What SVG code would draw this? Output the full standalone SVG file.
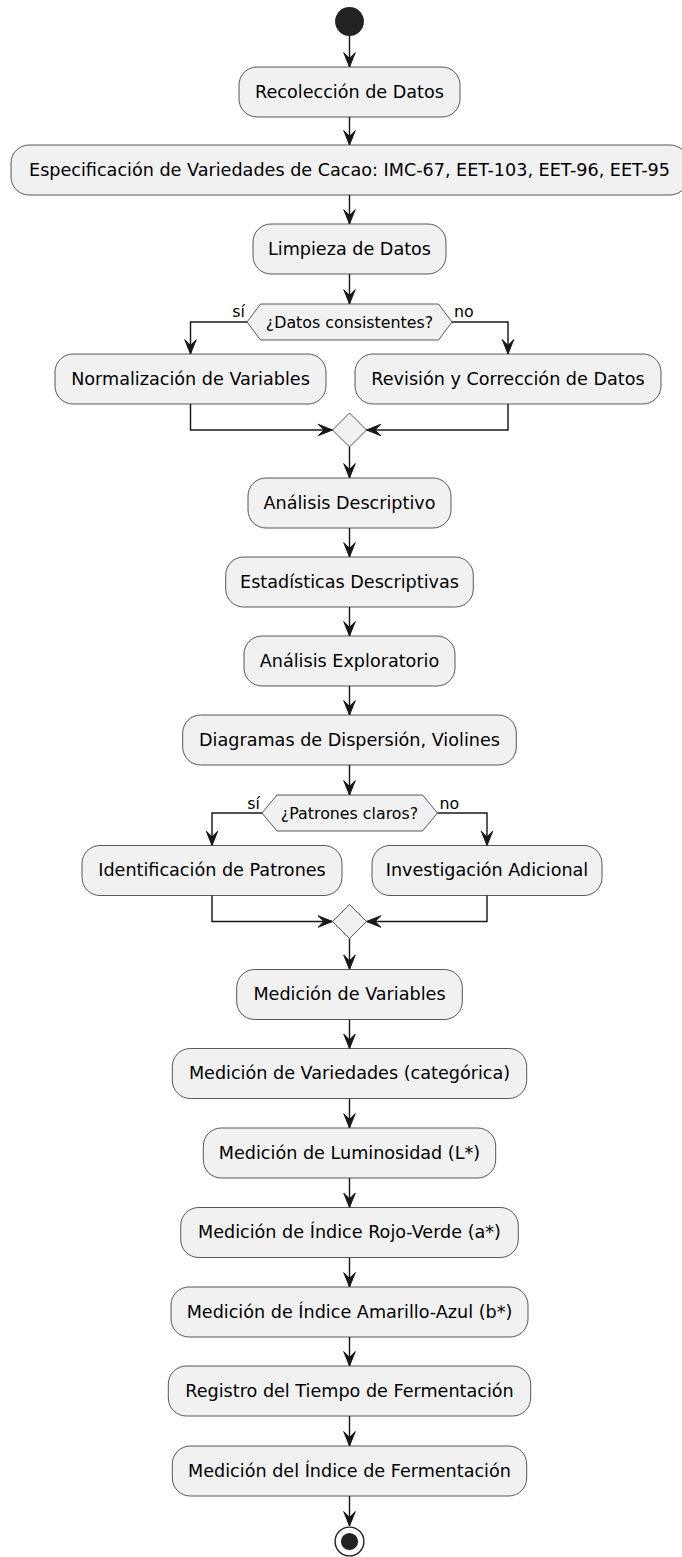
<svg xmlns="http://www.w3.org/2000/svg" width="682" height="1557" viewBox="0 0 682 1557">
<style>
.box{fill:#F1F1F1;stroke:#181818;stroke-width:0.72}
.t{font-family:'DejaVu Sans','Liberation Sans',sans-serif;font-size:17.6px;fill:#000;text-anchor:middle}
.h{font-family:'DejaVu Sans','Liberation Sans',sans-serif;font-size:15.84px;fill:#000;text-anchor:middle}
.l{font-family:'DejaVu Sans','Liberation Sans',sans-serif;font-size:15.84px;fill:#000}
.c{fill:none;stroke:#181818;stroke-width:1.44}
</style>
<defs>
<marker id="ah" markerUnits="userSpaceOnUse" orient="auto" refX="0" refY="0" markerWidth="20" markerHeight="20" overflow="visible">
<path d="M0,0 L-14.4,-5.76 L-8.64,0 L-14.4,5.76 Z" fill="#181818" stroke="#181818" stroke-width="1"/>
</marker>
</defs>
<rect width="682" height="1557" fill="#FFFFFF"/>
<g id="connectors">
<path class="c" marker-end="url(#ah)" d="M349.5,36 V67"/>
<path class="c" marker-end="url(#ah)" d="M349.5,117 V145"/>
<path class="c" marker-end="url(#ah)" d="M349.5,195 V224"/>
<path class="c" marker-end="url(#ah)" d="M349.5,274 V304"/>
<path class="c" marker-end="url(#ah)" d="M247,322 H190.5 V354"/>
<path class="c" marker-end="url(#ah)" d="M452,322 H508 V354"/>
<path class="c" marker-end="url(#ah)" d="M190.5,404 V430 H332.5"/>
<path class="c" marker-end="url(#ah)" d="M508,404 V430 H366.5"/>
<path class="c" marker-end="url(#ah)" d="M349.5,447 V478"/>
<path class="c" marker-end="url(#ah)" d="M349.5,528 V557"/>
<path class="c" marker-end="url(#ah)" d="M349.5,607 V636"/>
<path class="c" marker-end="url(#ah)" d="M349.5,686 V715"/>
<path class="c" marker-end="url(#ah)" d="M349.5,765 V795"/>
<path class="c" marker-end="url(#ah)" d="M262,813 H212 V845.5"/>
<path class="c" marker-end="url(#ah)" d="M437.5,813 H487 V845.5"/>
<path class="c" marker-end="url(#ah)" d="M212,895.5 V921.5 H332.5"/>
<path class="c" marker-end="url(#ah)" d="M487,895.5 V921.5 H366.5"/>
<path class="c" marker-end="url(#ah)" d="M349.5,938.5 V969.5"/>
<path class="c" marker-end="url(#ah)" d="M349.5,1019.5 V1048.5"/>
<path class="c" marker-end="url(#ah)" d="M349.5,1098.5 V1128"/>
<path class="c" marker-end="url(#ah)" d="M349.5,1178 V1207.5"/>
<path class="c" marker-end="url(#ah)" d="M349.5,1257.5 V1287"/>
<path class="c" marker-end="url(#ah)" d="M349.5,1337 V1366"/>
<path class="c" marker-end="url(#ah)" d="M349.5,1416 V1446"/>
<path class="c" marker-end="url(#ah)" d="M349.5,1496 V1526"/>
</g>
<g id="start"><circle cx="349.5" cy="21.5" r="14.4" fill="#222222"/></g>
<g id="n1"><rect class="box" x="239" y="67" width="221" height="50" rx="18"/><text class="t" x="349.5" y="97.8">Recolección de Datos</text></g>
<g id="n2"><rect class="box" x="11" y="145" width="677" height="50" rx="18"/><text class="t" x="349.5" y="175.8">Especificación de Variedades de Cacao: IMC-67, EET-103, EET-96, EET-95</text></g>
<g id="n3"><rect class="box" x="253" y="224" width="193" height="50" rx="18"/><text class="t" x="349.5" y="254.8">Limpieza de Datos</text></g>
<g id="d1"><polygon class="box" points="247,322 260.5,304 438.5,304 452,322 438.5,340 260.5,340"/><text class="h" x="349.5" y="327.5">¿Datos consistentes?</text><text class="l" x="245" y="317" text-anchor="end">sí</text><text class="l" x="454" y="317">no</text></g>
<g id="n4"><rect class="box" x="55" y="354" width="271" height="50" rx="18"/><text class="t" x="190.5" y="384.8">Normalización de Variables</text></g>
<g id="n5"><rect class="box" x="355" y="354" width="306" height="50" rx="18"/><text class="t" x="508" y="384.8">Revisión y Corrección de Datos</text></g>
<g id="m1"><polygon class="box" points="349.5,413 366.5,430 349.5,447 332.5,430"/></g>
<g id="n6"><rect class="box" x="248" y="478" width="203" height="50" rx="18"/><text class="t" x="349.5" y="508.8">Análisis Descriptivo</text></g>
<g id="n7"><rect class="box" x="225.7" y="557" width="247.6" height="50" rx="18"/><text class="t" x="349.5" y="587.8">Estadísticas Descriptivas</text></g>
<g id="n8"><rect class="box" x="244" y="636" width="211" height="50" rx="18"/><text class="t" x="349.5" y="666.8">Análisis Exploratorio</text></g>
<g id="n9"><rect class="box" x="182.7" y="715" width="333.6" height="50" rx="18"/><text class="t" x="349.5" y="745.8">Diagramas de Dispersión, Violines</text></g>
<g id="d2"><polygon class="box" points="262,813 277,795 422.5,795 437.5,813 422.5,831 277,831"/><text class="h" x="349.5" y="818.5">¿Patrones claros?</text><text class="l" x="260" y="808.5" text-anchor="end">sí</text><text class="l" x="439.5" y="808.5">no</text></g>
<g id="n10"><rect class="box" x="82" y="845.5" width="260" height="50" rx="18"/><text class="t" x="212" y="876.3">Identificación de Patrones</text></g>
<g id="n11"><rect class="box" x="372" y="845.5" width="230" height="50" rx="18"/><text class="t" x="487" y="876.3">Investigación Adicional</text></g>
<g id="m2"><polygon class="box" points="349.5,904.5 366.5,921.5 349.5,938.5 332.5,921.5"/></g>
<g id="n12"><rect class="box" x="236.7" y="969.5" width="225.6" height="50" rx="18"/><text class="t" x="349.5" y="1000.3">Medición de Variables</text></g>
<g id="n13"><rect class="box" x="172.3" y="1048.5" width="354.4" height="50" rx="18"/><text class="t" x="349.5" y="1079.3">Medición de Variedades (categórica)</text></g>
<g id="n14"><rect class="box" x="203.3" y="1128" width="292.4" height="50" rx="18"/><text class="t" x="349.5" y="1158.8">Medición de Luminosidad (L*)</text></g>
<g id="n15"><rect class="box" x="180.7" y="1207.5" width="337.6" height="50" rx="18"/><text class="t" x="349.5" y="1238.3">Medición de Índice Rojo-Verde (a*)</text></g>
<g id="n16"><rect class="box" x="171" y="1287" width="357" height="50" rx="18"/><text class="t" x="349.5" y="1317.8">Medición de Índice Amarillo-Azul (b*)</text></g>
<g id="n17"><rect class="box" x="168.3" y="1366" width="362.4" height="50" rx="18"/><text class="t" x="349.5" y="1396.8">Registro del Tiempo de Fermentación</text></g>
<g id="n18"><rect class="box" x="172.3" y="1446" width="354.4" height="50" rx="18"/><text class="t" x="349.5" y="1476.8">Medición del Índice de Fermentación</text></g>
<g id="end"><circle cx="349.5" cy="1541.5" r="14.4" fill="none" stroke="#222222" stroke-width="1.44"/><circle cx="349.5" cy="1541.5" r="8.6" fill="#222222"/></g>
</svg>
